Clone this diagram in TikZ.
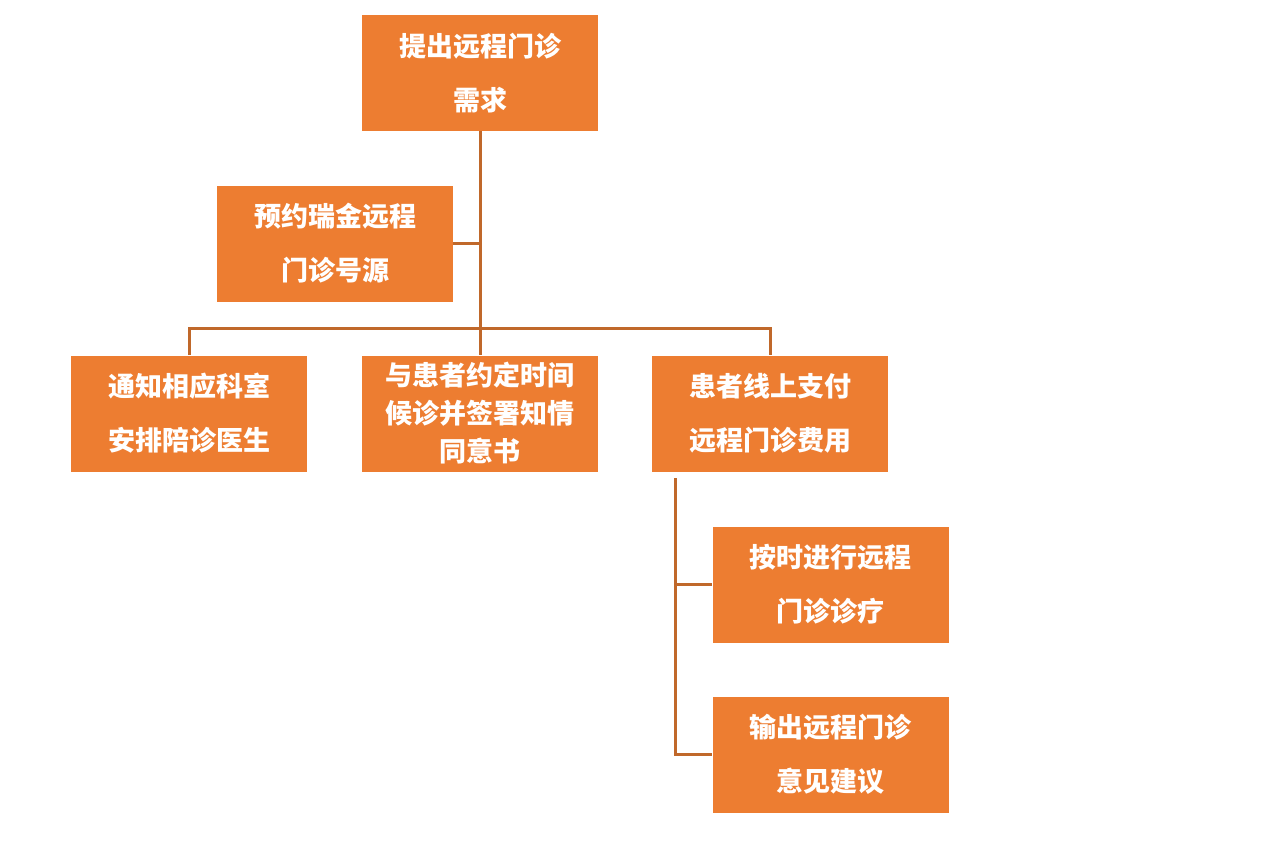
\documentclass[tikz,border=0pt]{standalone}
\usepackage{fontspec}
\newfontfamily\cjk{Noto Sans CJK SC}
\usetikzlibrary{positioning}
\definecolor{boxfill}{RGB}{237,125,49}
\definecolor{linkline}{RGB}{192,104,42}
\tikzset{every picture/.style={line width=0.75pt}}
\tikzset{stepbox/.style={draw=none,fill=boxfill,text=white,minimum width=236pt,minimum height=116pt,inner sep=0pt,align=center,font=\cjk\bfseries\fontsize{27}{54}\selectfont},
  link/.style={draw=linkline,line width=3pt}}

\begin{document}
\begin{tikzpicture}[x=1pt,y=1pt,yscale=-1,xscale=1]
\useasboundingbox (0,0) rectangle (1268,862);

% Boxes
\node [stepbox] (need) at (480,73) {提出远程门诊\\需求};
\node [stepbox] (book) at (335,243.5) {预约瑞金远程\\门诊号源};
\node [stepbox] (notify) at (189,413.5) {通知相应科室\\安排陪诊医生};
\node [stepbox,font=\cjk\bfseries\fontsize{27}{38}\selectfont] (agree) at (480,413.5) {与患者约定时间\\候诊并签署知情\\同意书};
\node [stepbox] (pay) at (770,413.5) {患者线上支付\\远程门诊费用};
\node [stepbox] (visit) at (830.5,584.5) {按时进行远程\\门诊诊疗};
\node [stepbox] (advice) at (830.5,754.5) {输出远程门诊\\意见建议};

% Connectors
\coordinate (split) at (480,328);
\draw [link] (need.south) -- (split);
\draw [link] (book.east) -- (book.east -| need.south);
\draw [link] (notify.north) |- (split) -| (pay.north);
\draw [link] (split) -- (agree.north);
\coordinate (branch) at (675,478);
\draw [link] (branch) |- (advice.west);
\draw [link] (visit.west) -- (visit.west -| branch);

\end{tikzpicture}
\end{document}
